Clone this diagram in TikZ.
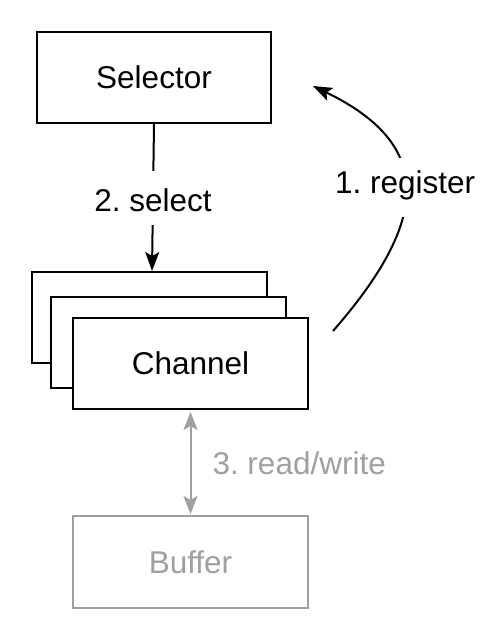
\documentclass[tikz,border=0pt]{standalone}
\usepackage{fontspec}
\setmainfont{Liberation Sans}
\usetikzlibrary{arrows.meta}
\definecolor{lightgr}{RGB}{160,160,160}
\frenchspacing
\begin{document}
\begin{tikzpicture}[x=1pt,y=-1pt,
  txt/.style={font=\fontsize{31.5}{38}\selectfont},
  box/.style={txt, draw, line width=2pt, fill=white, minimum width=235pt, minimum height=91pt, inner sep=0pt},
  conn/.style={line width=2pt, -{Stealth[length=19pt,width=14pt,inset=4pt]}},
  dconn/.style={line width=2pt, lightgr, {Stealth[length=18pt,width=14pt,inset=4pt]}-{Stealth[length=18pt,width=14pt,inset=4pt]}},
  lbl/.style={txt, fill=white, inner xsep=2pt}
]
\useasboundingbox[fill=white] (0,0) rectangle (488,630);

\node[box, minimum width=234pt] (sel) at (154,77.5) {Selector};

\node[box] (ch1) at (149.5,317.5) {};
\node[box] (ch2) at (168,342.5) {};
\node[box] (ch3) at (190.5,363.5) {Channel};

\node[box, draw=lightgr, text=lightgr, minimum height=92pt] (buf) at (190.5,562) {Buffer};

\coordinate (regstart) at (333,331);
\coordinate (regend) at (313,86);

\draw[conn] (sel.south) -- node[lbl, midway, text height=28pt, text depth=0pt, inner ysep=13pt] {2. select} ([xshift=2.5pt]ch1.north);

\draw[conn] (regstart) .. controls (430,220) and (435,145) .. (regend)
  node[lbl, pos=0.505, text height=24pt, text depth=12pt, inner ysep=11.5pt] {1. register};

\draw[dconn] ([yshift=-2pt]ch3.south) -- node[txt, midway, anchor=west, inner sep=0pt, xshift=21pt, text=lightgr] {3. read/write} ([yshift=1pt]buf.north);
\end{tikzpicture}
\end{document}
